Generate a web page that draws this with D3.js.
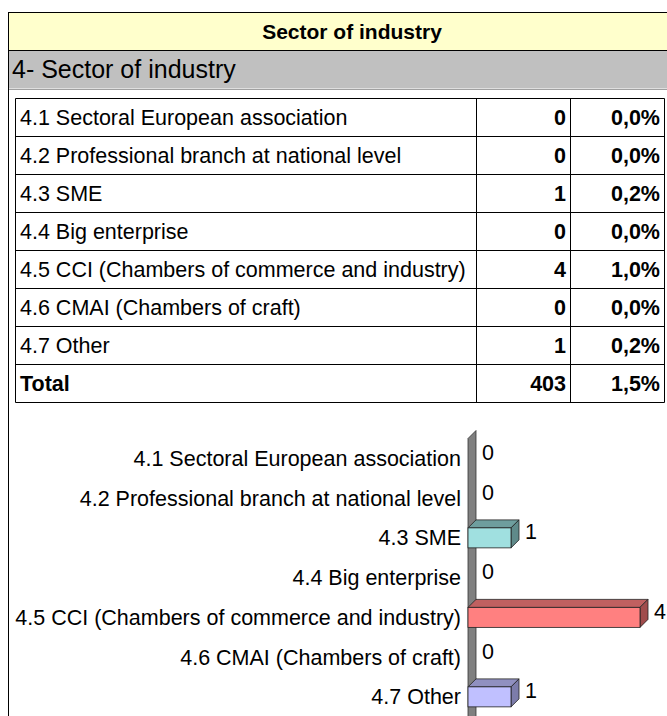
<!DOCTYPE html>
<html><head><meta charset="utf-8">
<script src="https://cdn.jsdelivr.net/npm/d3@7"></script>
<style>
html,body{margin:0;padding:0;background:#fff;}
svg{display:block;font-family:"Liberation Sans",Arial,sans-serif;}
</style></head>
<body>
<svg id="c" width="667" height="716"></svg>
<script>
const title = "Sector of industry";
const subtitle = "4- Sector of industry";
const categories = [
  "4.1 Sectoral European association",
  "4.2 Professional branch at national level",
  "4.3 SME",
  "4.4 Big enterprise",
  "4.5 CCI (Chambers of commerce and industry)",
  "4.6 CMAI (Chambers of craft)",
  "4.7 Other"
];
const counts = [0, 0, 1, 0, 4, 0, 1];
const percents = ["0,0%", "0,0%", "0,2%", "0,0%", "1,0%", "0,0%", "0,2%"];
const totalLabel = "Total";
const totalCount = 403;
const totalPercent = "1,5%";
const barColors = ["#A0E0E0", "#A0E0E0", "#A0E0E0", "#A0E0E0", "#FF8080", "#C0C0FF", "#C0C0FF"];
const topColors = ["#6E9E9E", "#6E9E9E", "#6E9E9E", "#6E9E9E", "#C06060", "#9090C0", "#9090C0"];
const sideColors = ["#5F8A8A", "#5F8A8A", "#5F8A8A", "#5F8A8A", "#A04C4C", "#7C7CAA", "#7C7CAA"];

const svg = d3.select("#c");
const FS = 21.5;

// header bands
svg.append("rect").attr("x", 8.5).attr("y", 12.5).attr("width", 660).attr("height", 38)
  .attr("fill", "#FFFFCC").attr("stroke", "#000");
svg.append("text").attr("x", 352).attr("y", 39).attr("text-anchor", "middle")
  .attr("font-weight", "bold").attr("font-size", 21).text(title);
svg.append("rect").attr("x", 8.5).attr("y", 50.5).attr("width", 660).attr("height", 38)
  .attr("fill", "#C0C0C0").attr("stroke", "none");
svg.append("line").attr("x1", 8.5).attr("x2", 667).attr("y1", 50.5).attr("y2", 50.5).attr("stroke", "#000");
svg.append("line").attr("x1", 8.5).attr("x2", 667).attr("y1", 89.5).attr("y2", 89.5).attr("stroke", "#A0A0A0");
svg.append("text").attr("x", 12).attr("y", 78).attr("font-size", 25).text(subtitle);
svg.append("line").attr("x1", 8.5).attr("x2", 8.5).attr("y1", 12).attr("y2", 716).attr("stroke", "#000");

// table
const rows = categories.map((c, i) => ({label: c, n: counts[i], p: percents[i], bold: false}))
  .concat([{label: totalLabel, n: totalCount, p: totalPercent, bold: true}]);
const rowY = d3.scaleBand().domain(d3.range(rows.length)).range([98, 402]);
const colX = [15.5, 476.5, 570.5, 664.5];
const tg = svg.append("g");
tg.selectAll("line.h").data(d3.range(rows.length + 1)).join("line")
  .attr("x1", colX[0]).attr("x2", colX[3])
  .attr("y1", i => Math.round(98 + i * rowY.step()) + 0.5)
  .attr("y2", i => Math.round(98 + i * rowY.step()) + 0.5)
  .attr("stroke", "#000");
tg.selectAll("line.v").data(colX).join("line")
  .attr("x1", d => d).attr("x2", d => d).attr("y1", 98.5).attr("y2", 402.5).attr("stroke", "#000");
const rg = tg.selectAll("g.r").data(rows).join("g")
  .attr("transform", (d, i) => `translate(0,${rowY(i) + rowY.bandwidth() / 2 + 7.5})`);
rg.append("text").attr("x", 20).attr("font-size", FS)
  .attr("font-weight", d => d.bold ? "bold" : "normal").text(d => d.label);
rg.append("text").attr("x", 566).attr("text-anchor", "end").attr("font-size", FS)
  .attr("font-weight", "bold").text(d => d.n);
rg.append("text").attr("x", 660).attr("text-anchor", "end").attr("font-size", FS)
  .attr("font-weight", "bold").text(d => d.p);

// 3D bar chart
const x = d3.scaleLinear().domain([0, 4]).range([468, 640]);
const y = d3.scaleBand().domain(categories).range([438.5, 716.75]);
const D = 8, H = 20;
const cg = svg.append("g");
const x0 = x(0);
// wall
cg.append("path")
  .attr("d", `M${x0},${y.range()[0]} L${x0 + D},${y.range()[0] - D} L${x0 + D},${740} L${x0},${748} Z`)
  .attr("fill", "#808080").attr("stroke", "#333").attr("stroke-width", 0.8);
cg.selectAll("text.cat").data(categories).join("text")
  .attr("x", 461).attr("y", d => y(d) + y.bandwidth() / 2 + 7.5)
  .attr("text-anchor", "end").attr("font-size", FS).text(d => d);
const bars = cg.selectAll("g.bar").data(categories.map((c, i) => ({c, v: counts[i], i})).filter(d => d.v > 0)).join("g");
bars.each(function(d) {
  const g = d3.select(this);
  const yc = y(d.c) + y.bandwidth() / 2;
  const t = yc - H / 2, b = yc + H / 2, x1 = x(d.v);
  g.append("path").attr("d", `M${x0},${t} L${x0 + D},${t - D} L${x1 + D},${t - D} L${x1},${t} Z`)
    .attr("fill", topColors[d.i]).attr("stroke", "#222").attr("stroke-width", 0.8);
  g.append("path").attr("d", `M${x1},${t} L${x1 + D},${t - D} L${x1 + D},${b - D} L${x1},${b} Z`)
    .attr("fill", sideColors[d.i]).attr("stroke", "#222").attr("stroke-width", 0.8);
  g.append("rect").attr("x", x0).attr("y", t).attr("width", x1 - x0).attr("height", H)
    .attr("fill", barColors[d.i]).attr("stroke", "#222").attr("stroke-width", 0.8);
});
cg.selectAll("text.val").data(categories.map((c, i) => ({c, v: counts[i]}))).join("text")
  .attr("x", d => x(d.v) + D + 6).attr("y", d => y(d.c) + y.bandwidth() / 2 - 6 + 7.5)
  .attr("font-size", FS).text(d => d.v);
</script>
</body></html>
